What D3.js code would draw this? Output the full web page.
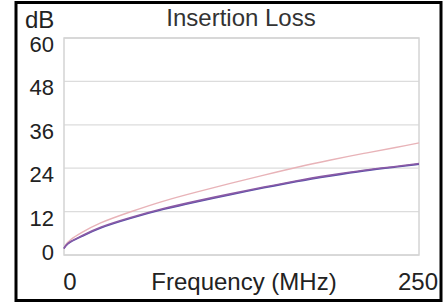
<!DOCTYPE html>
<html>
<head>
<meta charset="utf-8">
<script src="https://d3js.org/d3.v7.min.js"></script>
<style>
  body { margin: 0; background: #fff; }
  text { font-family: "Liberation Sans", Arial, sans-serif; fill: #222; }
</style>
</head>
<body>
<div id="chart"></div>
<script>
// frequency (MHz) and insertion loss (dB)
var freq   = [0, 1, 4, 12, 24, 47, 70, 94, 117, 141, 164, 188, 211, 235, 250];
var pink   = [1.8, 2.8, 4.2, 6.1, 8.8, 12.0, 15.0, 17.5, 19.8, 22.1, 24.3, 26.3, 28.1, 29.8, 31.0];
var purple = [1.8, 2.6, 3.7, 5.2, 7.6, 10.4, 12.9, 15.0, 16.9, 18.8, 20.6, 22.1, 23.5, 24.5, 25.3];
var blue   = [1.8, 2.5, 3.6, 5.0, 7.4, 10.2, 12.7, 14.8, 16.7, 18.6, 20.4, 21.9, 23.3, 24.4, 25.1];
var yTicks = [0, 12, 24, 36, 48, 60];
var xTicks = [0, 250];

(function(){
  var W = 446, H = 305;
  var left = 64, right = 419, top = 38, bottom = 255;

  var svg = d3.select("#chart").append("svg")
      .attr("width", W).attr("height", H);

  // outer frame
  svg.append("rect")
     .attr("x", 16).attr("y", 2.5).attr("width", 425).attr("height", 298)
     .attr("fill", "#fff").attr("stroke", "#000").attr("stroke-width", 3);

  var x = d3.scaleLinear().domain([0, 250]).range([left, right]);
  var y = d3.scaleLinear().domain([0, 60]).range([bottom, top]);

  // gridlines
  svg.append("g").selectAll("line")
     .data(yTicks).enter().append("line")
       .attr("x1", left).attr("x2", right)
       .attr("y1", function(d){ return y(d); })
       .attr("y2", function(d){ return y(d); })
       .attr("stroke", "#dcdcdc").attr("stroke-width", 1.3);

  svg.append("rect")
     .attr("x", left).attr("y", top)
     .attr("width", right - left).attr("height", bottom - top)
     .attr("fill", "none").attr("stroke", "#d4d4d4").attr("stroke-width", 1.5);

  // y labels
  svg.append("g").selectAll("text")
     .data(yTicks).enter().append("text")
       .attr("x", 54)
       .attr("y", function(d){ return d === 0 ? y(d) + 5 : y(d) + 14; })
       .attr("text-anchor", "end")
       .style("font-size", "22px")
       .text(function(d){ return d; });

  // x labels
  svg.append("g").selectAll("text")
     .data(xTicks).enter().append("text")
       .attr("x", function(d){ return d === 0 ? x(d) + 6 : x(d) + 19; })
       .attr("y", 290)
       .attr("text-anchor", function(d){ return d === 0 ? "middle" : "end"; })
       .style("font-size", "24px")
       .text(function(d){ return d; });

  svg.append("text")
     .attr("x", 244).attr("y", 290)
     .attr("text-anchor", "middle")
     .style("font-size", "24px")
     .text("Frequency (MHz)");

  svg.append("text")
     .attr("x", 241).attr("y", 26)
     .attr("text-anchor", "middle")
     .style("font-size", "24px").style("fill", "#333")
     .text("Insertion Loss");

  svg.append("text")
     .attr("x", 25).attr("y", 28)
     .style("font-size", "24px")
     .text("dB");

  var line = function(vals){
    return d3.line()
      .x(function(d, i){ return x(freq[i]); })
      .y(function(d){ return y(d); })
      .curve(d3.curveBasis)(vals);
  };

  svg.append("path").attr("d", line(pink))
     .attr("fill", "none").attr("stroke", "#e8b3b8").attr("stroke-width", 1.4);
  svg.append("path").attr("d", line(blue))
     .attr("fill", "none").attr("stroke", "#5a50a8").attr("stroke-width", 1.6);
  svg.append("path").attr("d", line(purple))
     .attr("fill", "none").attr("stroke", "#8a5aa6").attr("stroke-width", 1.6);
})();
</script>
</body>
</html>
